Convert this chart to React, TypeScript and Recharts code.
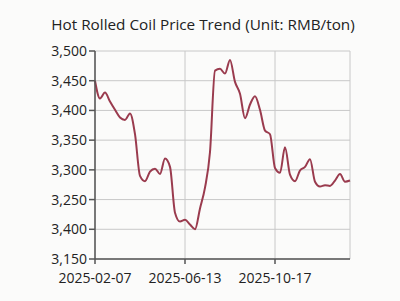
import { LineChart, Line, XAxis, YAxis, CartesianGrid } from 'recharts'

const dates = [
  '2025-02-07', '2025-02-14', '2025-02-21', '2025-02-28', '2025-03-07', '2025-03-14', '2025-03-21',
  '2025-03-28', '2025-04-04', '2025-04-11', '2025-04-18', '2025-04-25', '2025-05-02', '2025-05-09',
  '2025-05-16', '2025-05-23', '2025-05-30', '2025-06-06', '2025-06-13', '2025-06-20', '2025-06-27',
  '2025-07-04', '2025-07-11', '2025-07-18', '2025-07-25', '2025-08-01', '2025-08-08', '2025-08-15',
  '2025-08-22', '2025-08-29', '2025-09-05', '2025-09-12', '2025-09-19', '2025-09-26', '2025-10-03',
  '2025-10-10', '2025-10-17', '2025-10-24', '2025-10-31', '2025-11-07', '2025-11-14', '2025-11-21',
  '2025-11-28', '2025-12-05', '2025-12-12', '2025-12-19', '2025-12-26', '2026-01-02', '2026-01-09',
  '2026-01-16', '2026-01-23', '2026-01-30',
]

const prices = [
  3450, 3420, 3430, 3415, 3401, 3388, 3384, 3395, 3360, 3290,
  3281, 3297, 3302, 3293, 3319, 3305, 3228, 3213, 3216, 3208,
  3200, 3235, 3270, 3330, 3467, 3470, 3462, 3485, 3448, 3428,
  3387, 3410, 3424, 3401, 3366, 3360, 3303, 3295, 3338, 3292,
  3281, 3299, 3305, 3318, 3280, 3272, 3274, 3273, 3282, 3293,
  3280, 3282,
]

const xTicks = ['2025-02-07', '2025-06-13', '2025-10-17']
const yTicks = [3150, 3200, 3250, 3300, 3350, 3400, 3450, 3500]
// labels as printed on the original chart (the 3,200 line reads "3,400")
const yTickLabels = ['3,150', '3,400', '3,250', '3,300', '3,350', '3,400', '3,450', '3,500']

const data = dates.map((date, i) => ({ date, price: prices[i] }))

const font = '"Open Sans", sans-serif'

export default function App() {
  return (
    <div style={{ position: 'fixed', left: 0, top: 0, width: 400, height: 301, background: '#fbfbfa', fontFamily: font }}>
      <div style={{ position: 'absolute', top: 14, left: 0, width: 406, textAlign: 'center', fontSize: 15.3, color: '#222' }}>
        Hot Rolled Coil Price Trend (Unit: RMB/ton)
      </div>
      <LineChart width={400} height={301} data={data} margin={{ top: 51, right: 50, bottom: 4, left: 0 }}>
        <CartesianGrid stroke="#c8c8c8" strokeWidth={1} />
        <XAxis
          dataKey="date"
          ticks={xTicks}
          interval={0}
          height={38}
          tickSize={5}
          tickMargin={9}
          stroke="#555"
          strokeWidth={1.5}
          tick={{ fill: '#222', fontSize: 14, fontFamily: font }}
        />
        <YAxis
          domain={[3150, 3500]}
          ticks={yTicks}
          interval={0}
          width={95}
          tickSize={6}
          stroke="#555"
          strokeWidth={1.5}
          tickFormatter={(v: number) => yTickLabels[yTicks.indexOf(v)]}
          tick={{ fill: '#222', fontSize: 14, fontFamily: font }}
        />
        <Line
          type="monotone"
          dataKey="price"
          stroke="#9a3b4e"
          strokeWidth={2}
          dot={false}
          isAnimationActive={false}
        />
      </LineChart>
    </div>
  )
}
